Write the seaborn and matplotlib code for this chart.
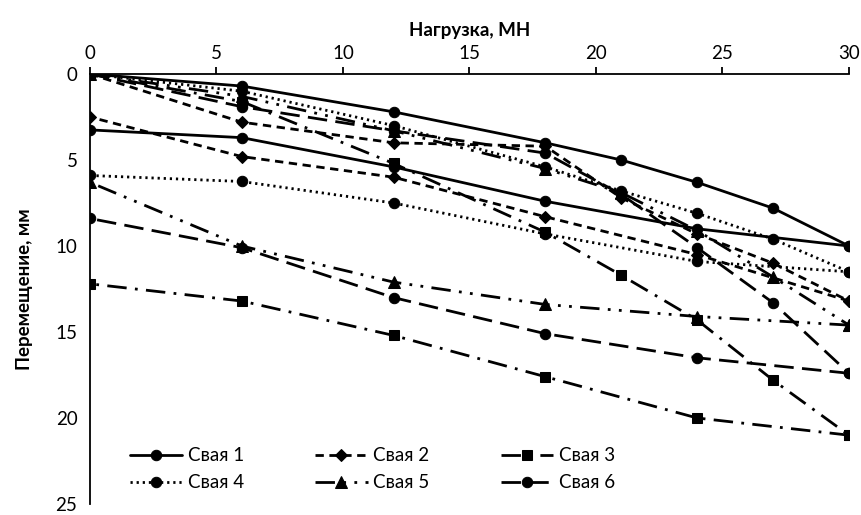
import matplotlib
matplotlib.use("Agg")
import matplotlib.pyplot as plt
import seaborn as sns
import pandas as pd

# Load steps (MN) for the loading and unloading branches
loads_up = [0, 6, 12, 18, 21, 24, 27, 30]
loads_down = [30, 24, 18, 12, 6, 0]

# Pile head settlement (mm)
pile1_up = [0, 0.7, 2.2, 4.0, 5.0, 6.3, 7.8, 10.0]
pile1_down = [10.0, 9.0, 7.4, 5.4, 3.7, 3.25]
pile2_up = [0, 2.8, 4.0, 4.2, 7.2, 9.3, 11.0, 13.2]
pile2_down = [13.2, 10.5, 8.3, 6.0, 4.8, 2.5]
pile3_up = [0, 1.6, 5.2, 9.2, 11.7, 14.3, 17.8, 21.0]
pile3_down = [21.0, 20.0, 17.6, 15.2, 13.2, 12.2]
pile4_up = [0, 1.0, 3.0, 5.4, 6.8, 8.1, 9.6, 11.5]
pile4_down = [11.5, 10.9, 9.3, 7.5, 6.25, 5.9]
pile5_up = [0, 1.3, 3.3, 5.5, 6.9, 9.1, 11.8, 14.6]
pile5_down = [14.6, 14.1, 13.4, 12.1, 10.0, 6.3]
pile6_up = [0, 1.9, 3.3, 4.6, 7.0, 10.1, 13.3, 17.4]
pile6_down = [17.4, 16.5, 15.1, 13.0, 10.1, 8.4]

pile_names = ["Свая 1", "Свая 2", "Свая 3", "Свая 4", "Свая 5", "Свая 6"]
ups = [pile1_up, pile2_up, pile3_up, pile4_up, pile5_up, pile6_up]
downs = [pile1_down, pile2_down, pile3_down, pile4_down, pile5_down, pile6_down]

rows = []
for name, up, down in zip(pile_names, ups, downs):
    for x, y in zip(loads_up, up):
        rows.append((name, "up", x, y))
    for x, y in zip(loads_down, down):
        rows.append((name, "down", x, y))
df = pd.DataFrame(rows, columns=["pile", "phase", "load", "disp"])

styles = {
    "Свая 1": dict(marker="o", ms=7.5, ls="-"),
    "Свая 2": dict(marker="D", ms=6, ls=(0, (3, 2))),
    "Свая 3": dict(marker="s", ms=7, ls=(0, (7, 3, 1, 3))),
    "Свая 4": dict(marker="o", ms=7.5, ls=(0, (0.8, 1.4))),
    "Свая 5": dict(marker="^", ms=8, ls=(0, (7, 3, 1, 3, 1, 3))),
    "Свая 6": dict(marker="o", ms=7.5, ls=(0, (7, 3))),
}

sns.set_style("white")
plt.rcParams["font.family"] = ["Lato", "DejaVu Sans"]
for key in ["text.color", "axes.labelcolor", "xtick.color", "ytick.color",
            "axes.edgecolor"]:
    plt.rcParams[key] = "black"

fig = plt.figure(figsize=(8.61, 5.15), dpi=100)
ax = fig.add_axes([0.1045, 0.0214, 0.8815, 0.8349])

handles = {}
for name in pile_names:
    st = styles[name]
    for phase in ["up", "down"]:
        sub = df[(df.pile == name) & (df.phase == phase)]
        sns.lineplot(data=sub, x="load", y="disp", sort=False, ax=ax,
                     color="black", linewidth=2.0, linestyle=st["ls"],
                     marker=st["marker"], markersize=st["ms"],
                     markeredgecolor="black", markerfacecolor="black",
                     estimator=None, legend=False)
        line = ax.lines[-1]
        line.set_dash_capstyle("butt")
    handles[name] = line

ax.set_xlim(0, 30)
ax.set_ylim(25, 0)
ax.set_xticks(range(0, 31, 5))
ax.set_yticks(range(0, 26, 5))
ax.xaxis.tick_top()
ax.xaxis.set_label_position("top")
ax.set_xlabel("Нагрузка, МН", fontsize=13.5, fontweight="bold", labelpad=6)
ax.set_ylabel("Перемещение, мм", fontsize=13.5, fontweight="bold", labelpad=16)
ax.tick_params(axis="both", labelsize=13.5, direction="out", length=5, width=1.3,
               color="black", pad=4)
for side in ["right", "bottom"]:
    ax.spines[side].set_visible(False)
for side in ["left", "top"]:
    ax.spines[side].set_linewidth(1.3)
    ax.spines[side].set_color("black")

order = ["Свая 1", "Свая 4", "Свая 2", "Свая 5", "Свая 3", "Свая 6"]
ax.legend([handles[n] for n in order], order, ncol=3, frameon=False,
          fontsize=13.5, handlelength=2.8, handletextpad=0.3, columnspacing=3.8,
          labelspacing=0.55, loc="lower left", bbox_to_anchor=(0.03, -0.01),
          numpoints=1)

fig.savefig("out.png", dpi=100)
